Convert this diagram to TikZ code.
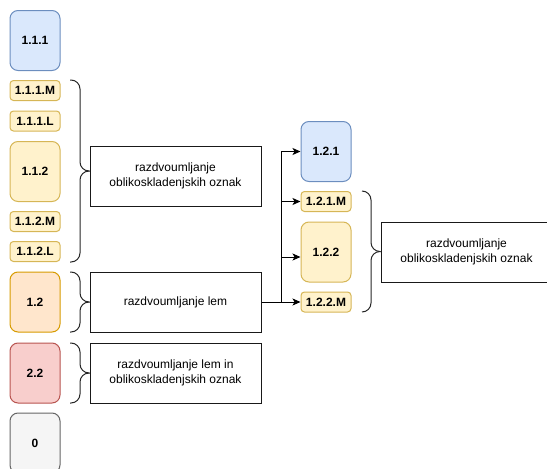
\documentclass[tikz,border=0pt]{standalone}
\usepackage{fontspec}
\setmainfont{Liberation Sans}
\usetikzlibrary{arrows.meta}
\definecolor{bluefill}{HTML}{DAE8FC}\definecolor{bluedraw}{HTML}{6C8EBF}
\definecolor{yelfill}{HTML}{FFF2CC}\definecolor{yeldraw}{HTML}{D6B656}
\definecolor{orafill}{HTML}{FFE6CC}\definecolor{oradraw}{HTML}{D79B00}
\definecolor{redfill}{HTML}{F8CECC}\definecolor{reddraw}{HTML}{B85450}
\definecolor{grayfill}{HTML}{F5F5F5}\definecolor{graydraw}{HTML}{666666}
\tikzset{
  lbl/.style={rounded corners=8pt, minimum width=50pt, minimum height=60pt, inner sep=0pt,
    font=\fontsize{12}{14}\selectfont\bfseries, line width=1pt},
  smalllbl/.style={lbl, rounded corners=3.5pt, minimum height=20pt},
  bluebox/.style={fill=bluefill, draw=bluedraw},
  yelbox/.style={fill=yelfill, draw=yeldraw},
  orabox/.style={fill=orafill, draw=oradraw},
  redbox/.style={fill=redfill, draw=reddraw},
  graybox/.style={fill=grayfill, draw=graydraw},
  txt/.style={draw=black!90, line width=1pt, minimum width=171pt, minimum height=60pt,
    align=center, inner sep=0pt, font=\fontsize{12}{15}\selectfont},
  brace/.style={draw=black!85, line width=1pt, rounded corners=9pt},
  arr/.style={draw=black, line width=1pt, -{Stealth[length=8pt,width=7pt,inset=2pt]}}
}
\begin{document}
\begin{tikzpicture}[x=1pt,y=-1pt]
\useasboundingbox (0,0) rectangle (547,469);
\clip (0,0) rectangle (547,469);
% left column
\node[lbl,bluebox] (n111) at (35,40.5) {1.1.1};
\node[smalllbl,yelbox] (n111M) at (35,90.5) {1.1.1.M};
\node[smalllbl,yelbox] (n111L) at (35,121) {1.1.1.L};
\node[lbl,yelbox] (n112) at (35,171.5) {1.1.2};
\node[smalllbl,yelbox] (n112M) at (35,221.5) {1.1.2.M};
\node[smalllbl,yelbox] (n112L) at (35,251.5) {1.1.2.L};
\node[lbl,orabox] (n12) at (35,302) {1.2};
\node[lbl,redbox] (n22) at (35,373) {2.2};
\node[lbl,graybox] (n0) at (35,443) {0};
% text boxes
\node[txt] (oblik1) at (175.5,176) {razdvoumljanje\\oblikoskladenjskih oznak};
\node[txt] (lem) at (175.5,302) {razdvoumljanje lem};
\node[txt] (lemin) at (175.5,373) {razdvoumljanje lem in\\oblikoskladenjskih oznak};
% braces
\draw[brace] (70,80) -- (80,80) -- (80,171) -- (89.5,171);
\draw[brace] (70,262) -- (80,262) -- (80,171) -- (89.5,171);
\draw[brace] (70,272) -- (80,272) -- (80,302) -- (89.5,302);
\draw[brace] (70,332) -- (80,332) -- (80,302) -- (89.5,302);
\draw[brace] (70,343) -- (80,343) -- (80,373) -- (89.5,373);
\draw[brace] (70,403) -- (80,403) -- (80,373) -- (89.5,373);
% right column
\node[lbl,bluebox] (n121) at (326,151.5) {1.2.1};
\node[smalllbl,yelbox] (n121M) at (326,201.5) {1.2.1.M};
\node[lbl,yelbox] (n122) at (326,252) {1.2.2};
\node[smalllbl,yelbox] (n122M) at (326,302) {1.2.2.M};
\node[txt, minimum width=170pt] (oblik2) at (466.5,252) {razdvoumljanje\\oblikoskladenjskih oznak};
\draw[brace] (362,191) -- (371,191) -- (371,251.5) -- (380.5,251.5);
\draw[brace] (362,312) -- (371,312) -- (371,251.5) -- (380.5,251.5);
% connectors
\coordinate (sp) at (281,302);
\draw[arr] (lem.east) -- (sp) |- (n121.west);
\draw[arr] (lem.east) -- (sp) |- (n121M.west);
\draw[arr] (lem.east) -- (sp) |- ([yshift=-5pt]n122.west);
\draw[arr] (lem.east) -- (n122M.west);
\end{tikzpicture}
\end{document}
